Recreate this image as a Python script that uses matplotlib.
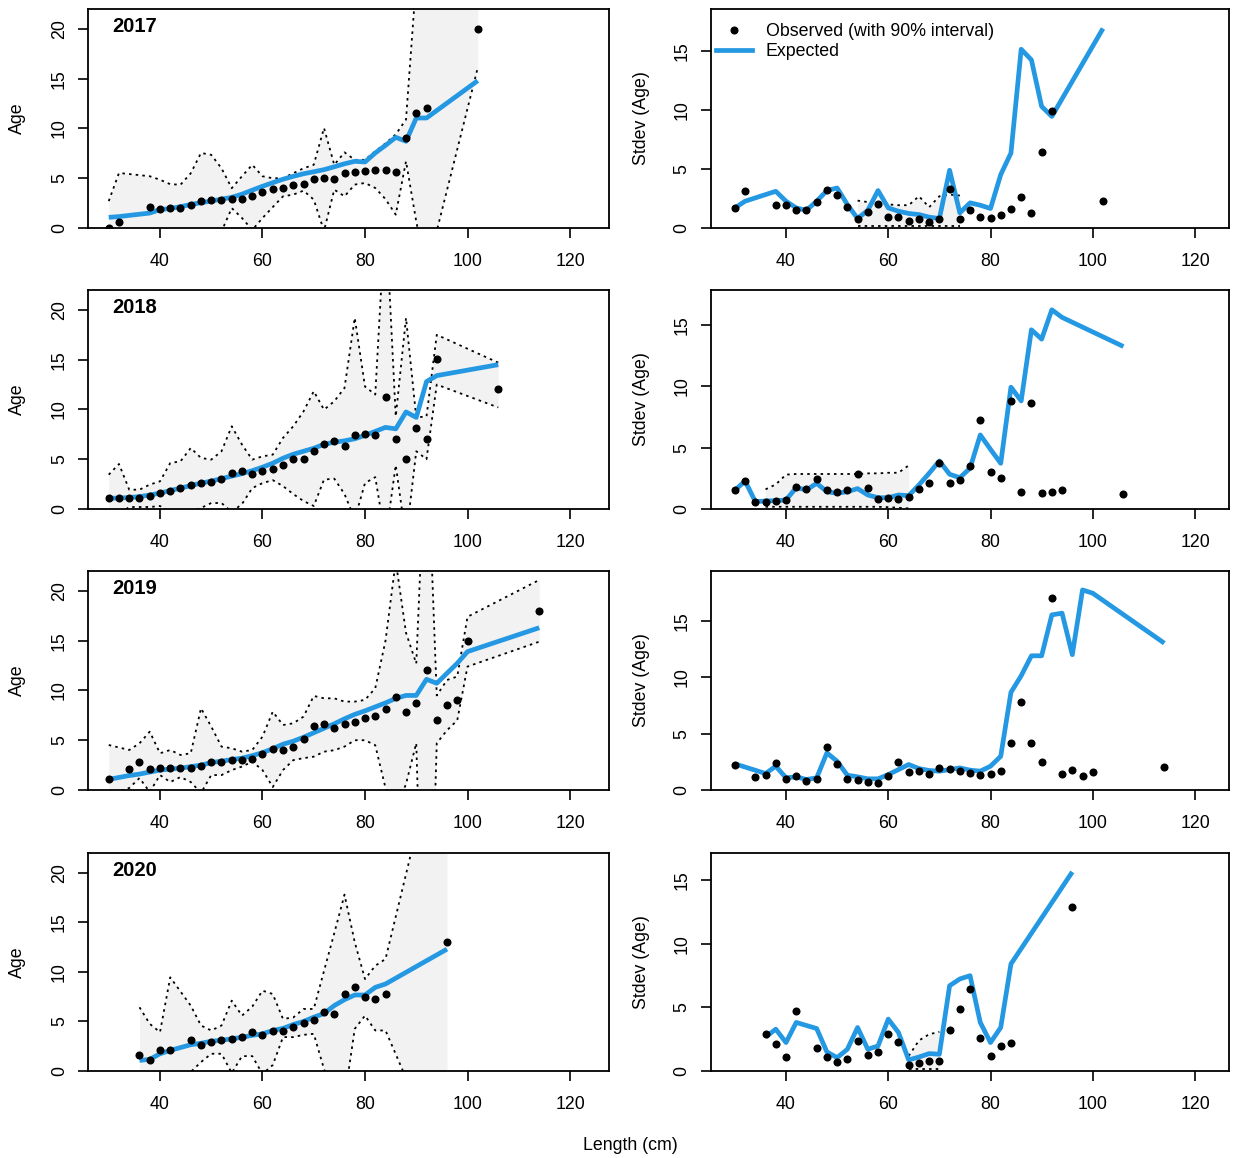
import numpy as np
import matplotlib
matplotlib.use('Agg')
import matplotlib.pyplot as plt
from matplotlib.lines import Line2D

plt.rcParams['font.family'] = ['Liberation Sans', 'DejaVu Sans']

# ---------------- data ----------------
years = [2017, 2018, 2019, 2020]

len_2017 = [30, 32, 38, 40, 42, 44, 46, 48, 50, 52, 54, 56, 58, 60, 62, 64, 66, 68, 70, 72,
            74, 76, 78, 80, 82, 84, 86, 88, 90, 92, 102]
obs_age_2017 = [0.05, 0.63, 2.1, 1.88, 2.0, 2.0, 2.28, 2.68, 2.8, 2.8, 2.88, 2.95, 3.25, 3.58, 3.92,
                4.0, 4.29, 4.42, 4.89, 5.03, 4.92, 5.53, 5.6, 5.73, 5.83, 5.83, 5.6, 9.05, 11.56, 12.06, 20.0]
exp_age_2017 = [1.07, 1.15, 1.5, 1.85, 1.95, 2.15, 2.35, 2.55, 2.7, 2.9, 3.08, 3.4, 3.8, 4.19, 4.55,
                4.9, 5.19, 5.45, 5.65, 5.86, 6.15, 6.45, 6.7, 6.63, 7.54, 8.3, 9.11, 8.71, 11.05, 11.05, 14.8]
upp_age_2017 = [2.7, 5.53, 5.2, 4.85, 4.4, 4.35, 5.5, 7.54, 7.35, 6.0, 4.0, 5.2, 6.35, 5.2, 5.0,
                5.0, 5.5, 6.0, 6.35, 10.05, 6.35, 7.6, 6.85, 6.85, 7.7, 8.5, 9.4, 10.9, 25.0, 30.0, 32.0]
low_age_2017 = [-1.0, -0.6, -0.5, -0.8, -0.5, -0.5, -0.6, -0.5, -0.4, -0.35, 2.0, 1.0, -0.2, 1.0, 2.1,
                3.18, 3.35, 3.75, 2.85, -0.3, 3.85, 3.18, 4.36, 4.52, 4.02, 2.9, 1.34, 6.7, 0.65, -4.4, 16.1]
obs_sd_2017 = [1.7, 3.11, 1.99, 1.99, 1.5, 1.5, 2.18, 3.2, 2.83, 1.76, 0.72, 1.34, 2.07, 0.97, 0.89,
               0.58, 0.77, 0.52, 0.72, 3.31, 0.72, 1.5, 0.89, 0.83, 1.08, 1.62, 2.63, 1.28, 6.41, 9.87, 2.32]
exp_sd_2017 = [1.7, 2.27, 3.11, 2.27, 1.7, 1.5, 2.27, 3.17, 3.39, 1.99, 0.8, 1.5, 3.17, 1.7, 1.42,
               1.23, 1.14, 0.92, 0.8, 4.89, 1.28, 2.13, 1.93, 1.65, 4.52, 6.35, 15.14, 14.24, 10.3, 9.45, 16.9]
sdint_len_2017 = [54, 56, 58, 60, 62, 64, 66, 68, 70, 72, 74]
sdint_upp_2017 = [2.32, 2.2, 2.15, 2.0, 1.93, 1.93, 2.69, 1.76, 2.69, 2.83, 2.75]
sdint_low_2017 = [0.15, 0.15, 0.15, 0.15, 0.15, 0.15, 0.15, 0.15, 0.15, 0.15, 0.15]

len_2018 = [30, 32, 34, 36, 38, 40, 42, 44, 46, 48, 50, 52, 54, 56, 58, 60, 62, 64, 66, 68,
            70, 72, 74, 76, 78, 80, 82, 84, 86, 88, 90, 92, 94, 106]
obs_age_2018 = [1.07, 1.07, 1.07, 1.14, 1.27, 1.64, 1.78, 2.11, 2.41, 2.61, 2.75, 3.02, 3.65, 3.79, 3.52,
                3.79, 4.05, 4.46, 4.99, 4.99, 5.83, 6.53, 6.8, 6.37, 7.47, 7.54, 7.47, 11.22, 7.07, 5.06,
                8.11, 7.07, 15.08, 12.09]
exp_age_2018 = [1.07, 1.1, 1.15, 1.25, 1.4, 1.6, 1.85, 2.1, 2.35, 2.6, 2.8, 3.05, 3.3, 3.55, 3.85,
                4.2, 4.6, 5.1, 5.5, 5.8, 6.1, 6.5, 6.7, 6.85, 7.05, 7.4, 7.8, 8.2, 8.05, 9.75,
                9.2, 12.8, 13.4, 14.5]
upp_age_2018 = [3.45, 4.52, 1.94, 1.94, 2.45, 2.78, 4.62, 4.79, 6.13, 5.13, 4.96, 5.8, 8.31, 6.47, 4.96,
                5.29, 5.46, 7.14, 8.31, 9.8, 11.83, 9.98, 10.82, 12.16, 19.2, 12.3, 11.5, 30.0, 9.3, 19.2,
                9.2, 9.3, 17.5, 14.7]
low_age_2018 = [-1.0, -0.5, 0.2, 0.2, 0.2, 0.3, -0.3, -0.2, -0.3, 0.1, 0.6, 0.6, -0.3, 0.5, 2.1,
                2.6, 2.9, 2.3, 1.5, 0.8, 0.3, 2.95, 3.05, 1.5, -1.0, 2.6, 3.2, -3.0, 4.4, -3.0,
                5.8, 5.0, 12.5, 10.2]
obs_sd_2018 = [1.52, 2.28, 0.6, 0.6, 0.68, 0.71, 1.79, 1.66, 2.45, 1.58, 1.41, 1.58, 2.88, 1.74, 0.82,
               0.87, 0.79, 0.95, 1.66, 2.15, 3.78, 2.15, 2.39, 3.51, 7.26, 3.04, 2.53, 8.8, 1.36, 8.67,
               1.28, 1.36, 1.55, 1.25]
exp_sd_2018 = [1.52, 2.28, 0.6, 0.65, 0.68, 0.73, 1.74, 1.55, 2.09, 1.41, 1.28, 1.41, 1.66, 1.14, 0.92,
               0.92, 1.14, 1.09, 1.96, 2.91, 3.91, 2.83, 2.55, 3.32, 6.03, 4.86, 3.72, 9.92, 8.8, 14.59,
               13.83, 16.22, 15.6, 13.23]
sdint_len_2018 = [36, 38, 40, 42, 44, 46, 48, 50, 52, 54, 56, 58, 60, 62, 64]
sdint_upp_2018 = [1.6, 2.0, 2.8, 2.85, 2.85, 2.85, 2.85, 2.85, 2.85, 2.85, 2.9, 2.9, 2.95, 2.95, 3.55]
sdint_low_2018 = [0.18, 0.18, 0.18, 0.18, 0.18, 0.18, 0.18, 0.18, 0.18, 0.18, 0.18, 0.18, 0.15, 0.1, 0.05]

len_2019 = [30, 34, 36, 38, 40, 42, 44, 46, 48, 50, 52, 54, 56, 58, 60, 62, 64, 66, 68, 70,
            72, 74, 76, 78, 80, 82, 84, 86, 88, 90, 92, 94, 96, 98, 100, 114]
obs_age_2019 = [1.07, 2.08, 2.78, 2.11, 2.18, 2.24, 2.24, 2.24, 2.38, 2.78, 2.85, 2.98, 2.98, 3.15, 3.65,
                4.12, 4.05, 4.36, 5.09, 6.4, 6.6, 6.26, 6.67, 6.87, 7.27, 7.4, 8.14, 9.35, 7.81, 8.71,
                12.06, 7.04, 8.58, 9.05, 15.0, 18.02]
exp_age_2019 = [1.07, 1.45, 1.6, 1.8, 2.0, 2.1, 2.2, 2.35, 2.5, 2.75, 2.9, 3.05, 3.2, 3.45, 3.75,
                4.15, 4.6, 4.9, 5.3, 5.75, 6.2, 6.65, 7.15, 7.6, 7.95, 8.35, 8.75, 9.2, 9.5, 9.5,
                11.12, 10.72, 11.73, 12.73, 13.9, 16.3]
upp_age_2019 = [4.52, 4.02, 4.69, 5.86, 3.69, 4.02, 3.52, 3.69, 8.21, 6.37, 4.36, 4.19, 3.85, 4.02, 5.36,
                7.87, 6.53, 6.7, 7.37, 9.45, 9.21, 9.21, 8.88, 8.88, 9.05, 10.22, 15.0, 23.0, 15.8, 12.7,
                37.0, 9.5, 11.05, 11.4, 17.4, 21.1]
low_age_2019 = [-0.5, 0.2, 1.2, -0.2, 1.5, 0.8, 1.3, 0.8, -0.3, 1.5, 1.5, 2.0, 2.35, 2.85, 2.0,
                0.3, 2.0, 3.0, 3.2, 3.35, 3.85, 4.0, 4.36, 5.0, 5.0, 4.5, 0.2, -2.0, 0.6, 4.7,
                -30.0, 4.7, 6.0, 7.0, 12.4, 14.9]
obs_sd_2019 = [2.23, 1.19, 1.31, 2.43, 0.99, 1.22, 0.84, 0.99, 3.85, 2.32, 0.99, 0.9, 0.69, 0.63, 1.22,
               2.49, 1.61, 1.67, 1.43, 1.93, 1.84, 1.7, 1.55, 1.31, 1.46, 1.7, 4.18, 7.77, 4.15, 2.46,
               17.07, 1.43, 1.81, 1.28, 1.61, 2.05]
exp_sd_2019 = [2.32, 1.75, 1.46, 2.11, 1.08, 1.17, 0.93, 1.08, 3.29, 2.55, 1.31, 1.17, 0.99, 0.99, 1.37,
               1.81, 2.26, 1.9, 1.73, 1.67, 1.81, 1.96, 1.76, 1.67, 2.11, 2.99, 8.66, 10.13, 11.9, 11.9,
               15.53, 15.68, 12.0, 17.74, 17.45, 13.02]
sdint_len_2019 = []
sdint_upp_2019 = []
sdint_low_2019 = []

len_2020 = [36, 38, 40, 42, 46, 48, 50, 52, 54, 56, 58, 60, 62, 64, 66, 68, 70, 72, 74, 76,
            78, 80, 82, 84, 96]
obs_age_2020 = [1.57, 1.07, 2.08, 2.08, 3.08, 2.65, 2.91, 3.08, 3.22, 3.42, 3.92, 3.62, 4.05, 4.05, 4.39,
                4.86, 5.16, 5.93, 5.8, 7.74, 8.44, 7.44, 7.27, 7.77, 13.03]
exp_age_2020 = [1.07, 1.17, 1.74, 2.08, 2.65, 2.8, 3.0, 3.1, 3.25, 3.4, 3.6, 3.75, 4.09, 4.3, 4.69,
                5.0, 5.43, 5.8, 6.6, 7.2, 7.67, 7.67, 8.44, 8.78, 12.3]
upp_age_2020 = [6.43, 4.76, 3.92, 9.45, 6.6, 4.59, 4.09, 4.59, 7.1, 5.59, 6.5, 8.11, 7.77, 5.26, 5.4,
                6.26, 6.26, 10.1, 13.9, 17.8, 13.0, 9.28, 10.62, 11.3, 37.0]
low_age_2020 = [-1.0, -1.5, -2.0, -1.5, -0.1, 0.9, 1.74, 1.74, -0.2, 1.5, 1.5, -0.3, 0.6, 3.42, 3.42,
                3.65, 3.75, 0.2, -3.0, -2.8, 4.25, 5.59, 4.09, 4.09, -10.3]
obs_sd_2020 = [2.95, 2.13, 1.13, 4.71, 1.84, 1.08, 0.74, 0.92, 2.39, 1.24, 1.53, 2.89, 2.29, 0.45, 0.66,
               0.76, 0.76, 3.26, 4.87, 6.42, 2.61, 1.16, 1.97, 2.21, 12.89]
exp_sd_2020 = [2.68, 3.29, 2.24, 3.82, 3.34, 1.5, 1.05, 1.71, 3.42, 1.71, 1.97, 4.08, 3.03, 0.87, 1.1,
               1.37, 1.32, 6.71, 7.24, 7.5, 3.82, 2.24, 3.42, 8.42, 15.66]
sdint_len_2020 = [64, 66, 68, 70]
sdint_upp_2020 = [1.18, 2.4, 2.89, 3.08]
sdint_low_2020 = [0.13, 0.13, 0.13, 0.13]

x_ticks = [40, 60, 80, 100, 120]
age_ticks = [0, 5, 10, 15, 20]
sd_ticks = [0, 5, 10, 15]
sd_ylim_top = [18.55, 17.83, 19.42, 17.15]

data = {
    2017: (len_2017, obs_age_2017, exp_age_2017, upp_age_2017, low_age_2017, obs_sd_2017, exp_sd_2017,
           sdint_len_2017, sdint_upp_2017, sdint_low_2017),
    2018: (len_2018, obs_age_2018, exp_age_2018, upp_age_2018, low_age_2018, obs_sd_2018, exp_sd_2018,
           sdint_len_2018, sdint_upp_2018, sdint_low_2018),
    2019: (len_2019, obs_age_2019, exp_age_2019, upp_age_2019, low_age_2019, obs_sd_2019, exp_sd_2019,
           sdint_len_2019, sdint_upp_2019, sdint_low_2019),
    2020: (len_2020, obs_age_2020, exp_age_2020, upp_age_2020, low_age_2020, obs_sd_2020, exp_sd_2020,
           sdint_len_2020, sdint_upp_2020, sdint_low_2020),
}

# ---------------- style ----------------
BLUE = '#2498E2'
GREY = '#F2F2F2'
FS = 12.8
DOT = (0, (1.4, 2.3))
MS = 5.8

W, H = 1234, 1158
fig = plt.figure(figsize=(W / 100, H / 100), dpi=100)

rows = [(9, 228), (290, 509), (571, 790), (853, 1071)]
left_px = (88.5, 608.5)
right_px = (711, 1229)
left_xlim = (26.05, 127.51)
right_xlim = (25.33, 126.65)


def add_ax(xp, yp):
    x0, x1 = xp
    y0, y1 = yp
    return fig.add_axes([x0 / W, 1 - y1 / H, (x1 - x0) / W, (y1 - y0) / H])


def style(ax, yticks):
    for s in ax.spines.values():
        s.set_linewidth(1.3)
    ax.set_xticks(x_ticks)
    ax.set_yticks(yticks)
    ax.tick_params(axis='both', direction='out', length=7.2, width=1.2, labelsize=FS, color='black')
    ax.tick_params(axis='x', pad=10.5)
    ax.tick_params(axis='y', pad=7.5, labelrotation=90)
    for lab in ax.get_yticklabels():
        lab.set_va('center')
        lab.set_ha('right')


for i, yr in enumerate(years):
    (L, oa, ea, ua, la, osd, esd, sl, su, slo) = data[yr]
    L = np.array(L, float)

    # Age panel
    ax = add_ax(left_px, rows[i])
    ax.fill_between(L, la, ua, color=GREY, lw=0, zorder=1)
    ax.plot(L, ua, color='black', lw=1.3, ls=DOT, zorder=2)
    ax.plot(L, la, color='black', lw=1.3, ls=DOT, zorder=2)
    ax.plot(L, ea, color=BLUE, lw=3.4, solid_capstyle='butt', zorder=3)
    ax.plot(L, oa, 'o', color='black', ms=MS, mew=0, zorder=4)
    ax.set_xlim(*left_xlim)
    ax.set_ylim(0, 22.0)
    style(ax, age_ticks)
    ax.text(0.045, 0.918, str(yr), transform=ax.transAxes, fontsize=14.5, fontweight='bold',
            ha='left', va='center')
    yc = (rows[i][0] + rows[i][1]) / 2
    fig.text(17 / W, 1 - yc / H, 'Age', rotation=90, ha='center', va='center', fontsize=FS)

    # Stdev panel
    ax2 = add_ax(right_px, rows[i])
    if len(sl) > 0:
        ax2.fill_between(sl, slo, su, color=GREY, lw=0, zorder=1)
        ax2.plot(sl, su, color='black', lw=1.3, ls=DOT, zorder=2)
        ax2.plot(sl, slo, color='black', lw=1.3, ls=DOT, zorder=2)
    ax2.plot(L, esd, color=BLUE, lw=3.4, solid_capstyle='butt', zorder=3)
    ax2.plot(L, osd, 'o', color='black', ms=MS, mew=0, zorder=4)
    ax2.set_xlim(*right_xlim)
    ax2.set_ylim(0, sd_ylim_top[i])
    style(ax2, sd_ticks)
    fig.text(642 / W, 1 - yc / H, 'Stdev (Age)', rotation=90, ha='center', va='center', fontsize=FS)

    if i == 0:
        handles = [Line2D([], [], marker='o', color='black', ls='none', ms=MS, mew=0),
                   Line2D([], [], color=BLUE, lw=3.4)]
        ax2.legend(handles, ['Observed (with 90% interval)', 'Expected'], loc='upper left',
                   bbox_to_anchor=(0.010, 0.934), frameon=False, fontsize=FS, borderaxespad=0,
                   borderpad=0, handlelength=2.0, handletextpad=0.8, labelspacing=0.15)

fig.text(630 / W, 1 - 1145 / H, 'Length (cm)', ha='center', va='center', fontsize=FS)

fig.savefig('out.png', dpi=100)
